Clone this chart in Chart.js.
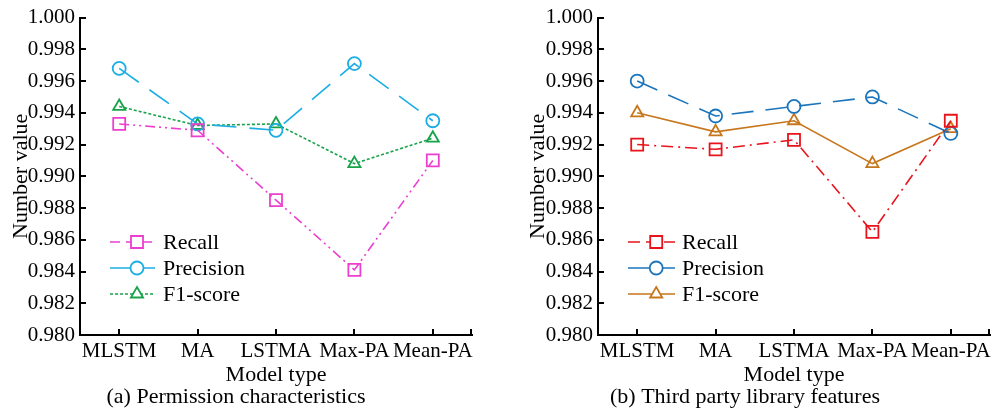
<!DOCTYPE html>
<html>
<head>
<meta charset="utf-8">
<script src="https://cdn.jsdelivr.net/npm/chart.js@4/dist/chart.umd.min.js"></script>
<style>
  html, body { margin: 0; padding: 0; background: #fff; }
  #wrap { position: relative; width: 1003px; height: 412px; overflow: hidden; }
  canvas { position: absolute; top: 0; }
</style>
</head>
<body>
<div id="wrap">
  <canvas id="c1" width="500" height="412" style="left:0"></canvas>
  <canvas id="c2" width="503" height="412" style="left:500px"></canvas>
</div>
<script>
const categories = ['MLSTM', 'MA', 'LSTMA', 'Max-PA', 'Mean-PA'];
const seriesNames = ['Recall', 'Precision', 'F1-score'];

// (a) Permission characteristics
const permRecall    = [0.9933, 0.9929, 0.9885, 0.9841, 0.9910];
const permPrecision = [0.9968, 0.9933, 0.9929, 0.9971, 0.9935];
const permF1        = [0.9944, 0.9932, 0.9933, 0.9908, 0.9924];

// (b) Third party library features
const libRecall    = [0.9920, 0.9917, 0.9923, 0.9865, 0.9935];
const libPrecision = [0.9960, 0.9938, 0.9944, 0.9950, 0.9927];
const libF1        = [0.9940, 0.9928, 0.9935, 0.9908, 0.9930];

const yTicks = [0.980, 0.982, 0.984, 0.986, 0.988, 0.990, 0.992, 0.994, 0.996, 0.998, 1.000];
const yTitle = 'Number value';
const xTitle = 'Model type';
const captions = ['(a) Permission characteristics', '(b) Third party library features'];

const FONT = '"Liberation Serif", "Times New Roman", serif';

const inwardTicks = {
  id: 'inwardTicks',
  afterDraw(chart) {
    const ctx = chart.ctx, a = chart.chartArea;
    const xs = chart.scales.x, ys = chart.scales.y;
    ctx.save();
    ctx.strokeStyle = '#000';
    ctx.lineWidth = 2;
    ctx.beginPath();
    ys.ticks.forEach((t, i) => {
      const y = Math.round(ys.getPixelForTick(i));
      ctx.moveTo(a.left, y); ctx.lineTo(a.left + 6, y);
    });
    xs.ticks.forEach((t, i) => {
      const x = Math.round(xs.getPixelForTick(i));
      ctx.moveTo(x, a.bottom); ctx.lineTo(x, a.bottom - 6);
    });
    ctx.moveTo(a.right - 1, a.bottom); ctx.lineTo(a.right - 1, a.bottom - 6);
    ctx.stroke();
    ctx.restore();
  }
};

const customLegend = {
  id: 'customLegend',
  afterDraw(chart, args, opts) {
    const ctx = chart.ctx;
    ctx.save();
    chart.data.datasets.forEach((ds, i) => {
      const y = opts.y + i * opts.dy;
      ctx.strokeStyle = ds.borderColor;
      ctx.lineWidth = ds.borderWidth;
      ctx.setLineDash(ds.legendDash || ds.borderDash || []);
      ctx.beginPath();
      ctx.moveTo(opts.x, y); ctx.lineTo(opts.x + opts.len, y);
      ctx.stroke();
      ctx.setLineDash([]);
      ctx.fillStyle = '#fff';
      ctx.lineWidth = ds.pointBorderWidth;
      Chart.helpers.drawPoint(ctx, {pointStyle: ds.pointStyle, radius: ds.pointRadius, borderWidth: ds.pointBorderWidth, rotation: 0}, opts.x + opts.len * 0.6, y);
      ctx.fillStyle = '#000';
      ctx.font = '22px ' + FONT;
      ctx.textBaseline = 'middle';
      ctx.textAlign = 'left';
      ctx.fillText(seriesNames[i], opts.textX, y + 1);
    });
    ctx.restore();
  }
};

function makeDataset(label, data, color, dash, style, r, legendDash) {
  return {
    label, data,
    borderColor: color,
    borderWidth: 1.6,
    borderDash: dash,
    legendDash: legendDash,
    pointStyle: style,
    pointRadius: r,
    pointHoverRadius: r,
    pointBorderWidth: 1.8,
    pointBorderColor: color,
    pointBackgroundColor: 'rgba(255,255,255,0)',
    tension: 0,
    fill: false
  };
}

function makeChart(id, datasets, caption, yWidth, padRight, yTitlePad, legendOpts) {
  return new Chart(document.getElementById(id), {
    type: 'line',
    data: { labels: categories, datasets },
    plugins: [inwardTicks, customLegend],
    options: {
      responsive: false,
      animation: false,
      devicePixelRatio: 1,
      layout: { padding: { top: 16, right: padRight, left: 0, bottom: 0 } },
      plugins: {
        legend: { display: false },
        tooltip: { enabled: false },
        title: {
          display: true, position: 'bottom', text: caption,
          color: '#000', font: { family: FONT, size: 22, weight: 'normal', lineHeight: 1.0 },
          padding: { top: 0, bottom: 4 }
        },
        customLegend: legendOpts
      },
      scales: {
        x: {
          type: 'category',
          offset: true,
          grid: { display: false, drawTicks: false },
          border: { display: true, color: '#000', width: 2 },
          ticks: { autoSkip: false, maxRotation: 0, minRotation: 0, color: '#000', padding: 4,
                   font: { family: FONT, size: 21 } },
          title: { display: true, text: xTitle, color: '#000', padding: { top: 0, bottom: 0 },
                   font: { family: FONT, size: 22, lineHeight: 1.0 } },
          afterFit(s) { s.height = 51; }
        },
        y: {
          min: 0.98, max: 1.0,
          grid: { display: false, drawTicks: false },
          border: { display: true, color: '#000', width: 2 },
          afterBuildTicks(s) { s.ticks = yTicks.map(v => ({ value: v })); },
          ticks: { color: '#000', padding: 5, font: { family: FONT, size: 21 },
                   callback: v => Number(v).toFixed(3) },
          title: { display: true, text: yTitle, color: '#000', padding: { top: yTitlePad, bottom: 0 },
                   font: { family: FONT, size: 22 } },
          afterFit(s) { s.width = yWidth; }
        }
      }
    }
  });
}

makeChart('c1', [
  makeDataset('Recall', permRecall, '#EC3FCF', [10, 4, 2, 4, 2, 4], 'rect', 8.5, [10, 6]),
  makeDataset('Precision', permPrecision, '#1BAEE4', [24, 13], 'circle', 6.5, [22, 10]),
  makeDataset('F1-score', permF1, '#18A34A', [3, 2], 'triangle', 7, [3, 2])
], captions[0], 80, 28, 8, { x: 110, y: 242, dy: 26, len: 45, textX: 163 });

makeChart('c2', [
  makeDataset('Recall', libRecall, '#E8141C', [12, 5, 2, 5], 'rect', 8.5, [12, 6]),
  makeDataset('Precision', libPrecision, '#1B75BC', [22, 12], 'circle', 6.5, [22, 10]),
  makeDataset('F1-score', libF1, '#C7761B', [], 'triangle', 7, [])
], captions[1], 98, 13, 25, { x: 128, y: 242, dy: 26, len: 47, textX: 182 });
</script>
</body>
</html>
